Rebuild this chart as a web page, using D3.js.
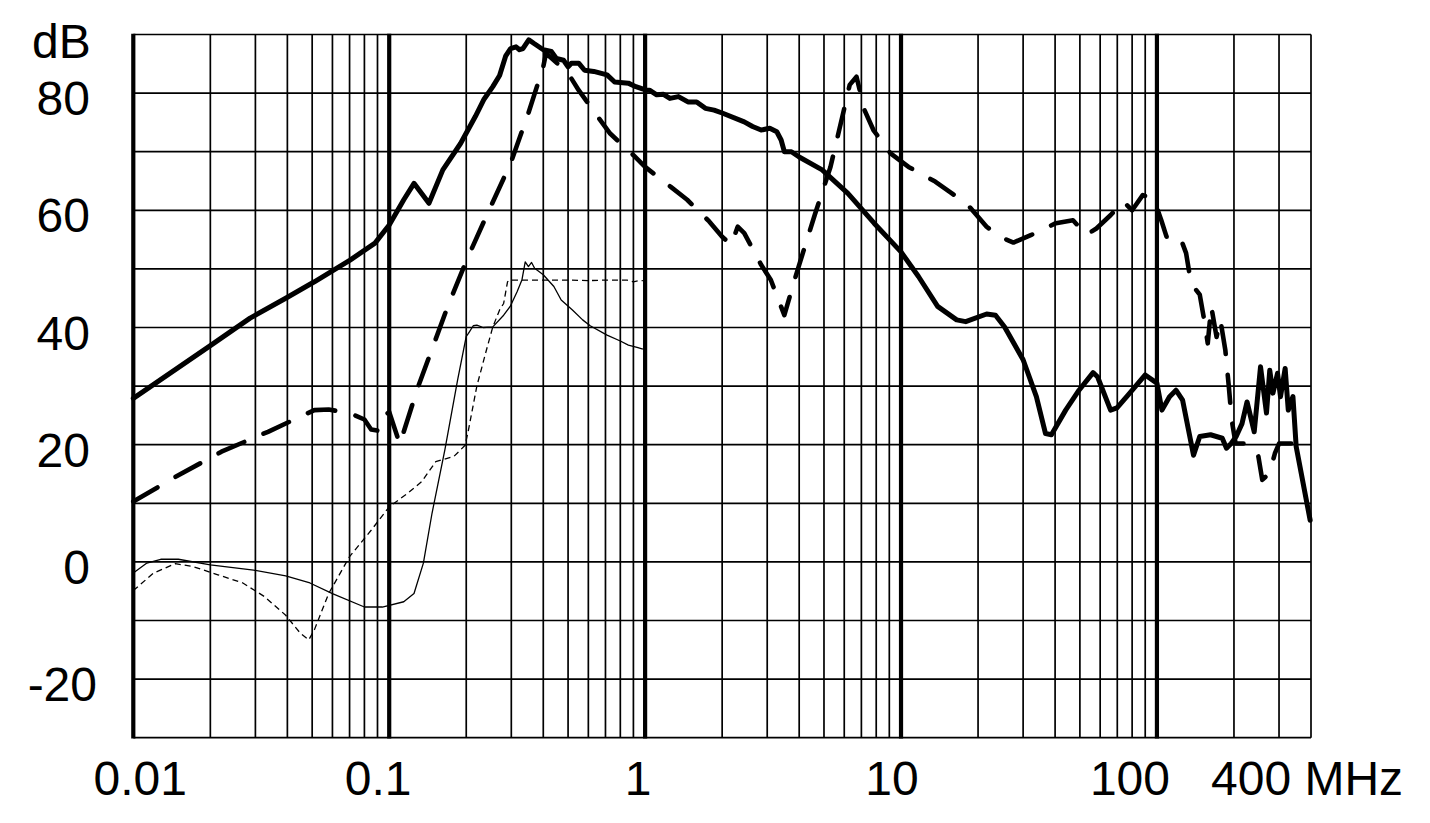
<!DOCTYPE html>
<html>
<head>
<meta charset="utf-8">
<script src="https://cdn.jsdelivr.net/npm/d3@7"></script>
<style>
  html, body { margin: 0; padding: 0; background: #fff; }
  svg { display: block; }
  text { font-family: "Liberation Sans", Arial, sans-serif; fill: #000; }
</style>
</head>
<body>
<svg id="chart" width="1430" height="823"></svg>
<script>
// ---------------- DATA ----------------
// Frequency axis (MHz, log) and dB axis
const xDomain = [0.01, 400];
const yDomain = [-30, 90];
const xTickValues = [0.01, 0.1, 1, 10, 100, 400];
const xTickLabels = ["0.01", "0.1", "1", "10", "100", "400 MHz"];
const yTickValues = [80, 60, 40, 20, 0, -20];
const yTickLabels = ["80", "60", "40", "20", "0", "-20"];
const yUnit = "dB";
const majorGrid = [0.01, 0.1, 1, 10, 100];
const minorGrid = [0.02,0.03,0.04,0.05,0.06,0.07,0.08,0.09,
                   0.2,0.3,0.4,0.5,0.6,0.7,0.8,0.9,
                   2,3,4,5,6,7,8,9,
                   20,30,40,50,60,70,80,90,
                   200,300,400];
const hGrid = [-30,-20,-10,0,10,20,30,40,50,60,70,80,90];

// Thick solid curve [MHz, dB]
const thickSolid = [
  [0.01,27.9],[0.02,36.9],[0.0286,41.6],[0.0394,45.0],[0.051,47.8],[0.0703,51.5],
  [0.088,54.4],[0.1,57.5],[0.114,61.8],[0.125,64.6],[0.143,61.2],[0.162,66.9],
  [0.19,71.4],[0.217,76.0],[0.235,79.0],[0.254,81.1],[0.27,83.0],[0.285,86.3],
  [0.298,87.6],[0.313,87.9],[0.323,87.4],[0.333,87.6],[0.351,89.1],[0.367,88.5],
  [0.4,87.4],[0.43,87.1],[0.45,85.9],[0.48,85.6],[0.5,84.5],[0.515,85.1],
  [0.55,85.1],[0.58,83.9],[0.63,83.7],[0.71,83.1],[0.76,81.9],[0.86,81.7],
  [0.92,81.1],[1.01,80.5],[1.04,80.5],[1.11,79.7],[1.18,79.8],[1.25,79.1],
  [1.35,79.4],[1.47,78.5],[1.59,78.5],[1.72,77.4],[1.86,77.1],[2.0,76.6],
  [2.44,75.1],[2.63,74.3],[2.84,73.7],[3.07,74.0],[3.27,73.4],[3.4,72.0],
  [3.5,70.0],[3.73,70.0],[4.0,69.1],[4.92,66.9],[6.2,62.9],[7.85,57.8],
  [10,52.9],[11.7,48.7],[13.9,43.6],[16.5,41.3],[17.9,41.0],[21.6,42.3],
  [23.4,42.1],[25.4,40.1],[30,34.5],[33.8,28.2],[36.7,21.9],[38.7,21.7],
  [44,25.9],[49.6,29.3],[56.3,32.3],[58.6,31.6],[65.9,25.9],[69.8,26.3],
  [78.3,28.8],[90,31.9],[100,30.5],[104.6,25.9],[112,28.2],[118.7,29.3],
  [126,27.6],[139,18.2],[147,21.4],[162,21.7],[180,21.1],[187,19.4],
  [195,20.2],[204,21.4],[215,23.6],[225,27.3],[240,22.2],[254,33.3],
  [268,25.4],[276,32.7],[284,28.8],[296,32.2],[304,28.2],[317,33.0],
  [326,25.9],[340,28.2],[350,19.7],[397,7.1]
];

// Thick dashed curve [MHz, dB]
const thickDashed = [
  [0.01,10.3],[0.0146,14.5],[0.0221,18.8],[0.0336,22.2],[0.051,25.9],[0.058,26.0],
  [0.07,25.4],[0.08,24.3],[0.085,22.6],[0.09,22.4],[0.094,24.6],[0.1,25.6],
  [0.11,20.1],[0.129,29.6],[0.17,43.8],[0.202,51.8],[0.246,60.1],[0.298,68.0],
  [0.35,76.6],[0.4,84.5],[0.41,86.8],[0.5,83.4],[0.55,80.5],[0.66,75.7],
  [0.73,73.1],[0.9,69.4],[1.0,67.4],[1.26,64.0],[1.46,61.8],[1.78,58.1],
  [2.0,55.5],[2.17,54.1],[2.3,57.2],[2.44,56.1],[2.84,50.7],[3.1,48.1],
  [3.5,42.1],[3.8,47.5],[4.0,50.7],[4.6,59.2],[5.3,67.4],[5.9,76.0],
  [6.3,81.4],[6.7,82.8],[7.2,77.1],[7.8,73.7],[9.1,69.7],[10.7,67.4],
  [13.6,64.9],[15.8,62.9],[18.5,60.6],[21.6,57.2],[24.3,55.5],[27.5,54.5],
  [32.3,55.8],[40.3,57.8],[47,58.3],[53,55.8],[58,56.9],[66,59.2],
  [74,61.5],[80,60.0],[88,62.6],[97.5,61.8],[104,58.3],[109,55.5],
  [123,55.5],[130,52.7],[136,47.5],[147,45.6],[153,41.3],[158,37.3],
  [163,43.6],[171,38.4],[177,41.3],[185,36.2],[191,29.9],[196,24.2],
  [203,20.2],[223,20.2],[248,18.5],[258,14.0],[275,15.1],[289,18.5],
  [300,20.2],[400,20.2]
];

// Thin solid curve [MHz, dB]
const thinSolid = [
  [0.01,-1.9],[0.0113,-0.2],[0.0128,0.45],[0.015,0.45],[0.02,-0.5],[0.0295,-1.4],
  [0.0394,-2.4],[0.049,-3.6],[0.06,-5.4],[0.08,-7.7],[0.094,-7.7],[0.114,-6.8],
  [0.125,-5.4],[0.136,-0.2],[0.147,8.3],[0.165,19.1],[0.185,31.0],[0.2,38.5],
  [0.204,39.0],[0.213,40.3],[0.22,40.4],[0.233,40.0],[0.254,40.1],[0.28,42.1],
  [0.297,43.6],[0.316,46.1],[0.33,48.1],[0.34,51.2],[0.35,50.4],[0.36,51.1],
  [0.37,50.1],[0.4,49.0],[0.44,47.0],[0.47,44.7],[0.52,43.0],[0.57,41.3],
  [0.61,40.3],[0.71,38.7],[0.8,37.7],[0.86,37.0],[0.93,36.6],[0.98,36.3]
];

// Thin dashed curve [MHz, dB]
const thinDashed = [
  [0.01,-4.9],[0.012,-1.9],[0.0146,-0.3],[0.0171,-0.8],[0.0214,-2.2],[0.0268,-3.6],
  [0.0325,-5.9],[0.0394,-9.1],[0.045,-12.2],[0.0485,-13.3],[0.051,-11.6],[0.058,-5.4],
  [0.07,0.9],[0.085,5.4],[0.1,9.4],[0.118,11.7],[0.134,13.7],[0.152,17.1],
  [0.179,18.0],[0.198,19.9],[0.204,22.5],[0.22,30.0],[0.24,36.2],[0.254,40.1],
  [0.27,43.0],[0.28,44.1],[0.29,47.8],[0.297,48.1],[0.5,48.1],[0.6,48.0],
  [0.7,48.1],[0.85,48.1],[0.9,47.8],[0.95,48.0],[0.98,48.0]
];

// ---------------- DRAW ----------------
const svg = d3.select("#chart");
const plot = { left: 133.3, right: 1311, top: 34.5, bottom: 737.7 };

const x = d3.scaleLog().domain(xDomain).range([plot.left, plot.right]);
const y = d3.scaleLinear().domain(yDomain).range([plot.bottom, plot.top]);

const grid = svg.append("g");
// horizontal grid
grid.selectAll("line.h").data(hGrid).enter().append("line")
  .attr("x1", plot.left).attr("x2", plot.right)
  .attr("y1", d => y(d)).attr("y2", d => y(d))
  .attr("stroke", "#000").attr("stroke-width", 1.7);
// minor vertical grid
grid.selectAll("line.vm").data(minorGrid).enter().append("line")
  .attr("x1", d => x(d)).attr("x2", d => x(d))
  .attr("y1", plot.top).attr("y2", plot.bottom)
  .attr("stroke", "#000").attr("stroke-width", 1.7);
// major vertical grid
grid.selectAll("line.vM").data(majorGrid).enter().append("line")
  .attr("x1", d => x(d)).attr("x2", d => x(d))
  .attr("y1", plot.top - 0.8).attr("y2", plot.bottom + 0.8)
  .attr("stroke", "#000").attr("stroke-width", 4.2);

const line = d3.line().x(d => x(d[0])).y(d => y(d[1])).curve(d3.curveLinear);

const curves = svg.append("g").attr("fill", "none").attr("stroke", "#000")
  .attr("stroke-linejoin", "round");

curves.append("path").datum(thinDashed).attr("d", line)
  .attr("stroke-width", 1.3).attr("stroke-dasharray", "6,4");
curves.append("path").datum(thinSolid).attr("d", line)
  .attr("stroke-width", 1.3);
curves.append("path").datum(thickDashed).attr("d", line)
  .attr("stroke-width", 4.6).attr("stroke-linecap", "round")
  .attr("stroke-dasharray", "28,21");
curves.append("path").datum(thickSolid).attr("d", line)
  .attr("stroke-width", 5).attr("stroke-linecap", "round");

// axis labels
const fontSize = 48;
const xLabelShift = [7, -11, -7, -9, -27, 0];
const xLabels = svg.append("g").attr("font-size", fontSize);
xLabels.selectAll("text").data(xTickValues).enter().append("text")
  .attr("x", (d, i) => i === xTickValues.length - 1 ? x(d) - 100 : x(d) + xLabelShift[i])
  .attr("y", 795)
  .attr("text-anchor", (d, i) => i === xTickValues.length - 1 ? "start" : "middle")
  .text((d, i) => xTickLabels[i]);

const yLabels = svg.append("g").attr("font-size", fontSize);
yLabels.selectAll("text").data(yTickValues).enter().append("text")
  .attr("x", d => d < 0 ? 97 : 90)
  .attr("y", d => y(d) + 22)
  .attr("text-anchor", "end")
  .text((d, i) => yTickLabels[i]);

svg.append("text").attr("font-size", fontSize)
  .attr("x", 32).attr("y", 58).attr("text-anchor", "start")
  .text(yUnit);
</script>
</body>
</html>
